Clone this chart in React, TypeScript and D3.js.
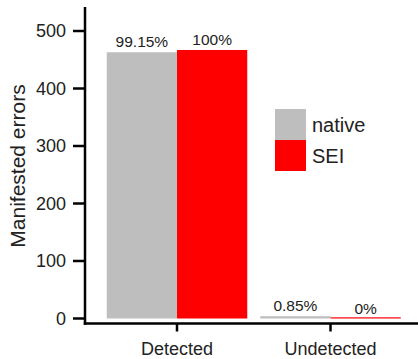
import React from "react";
import * as d3 from "d3";

const categories = ["Detected", "Undetected"];
const seriesNames = ["native", "SEI"];
const nativeValues = [463, 4];
const seiValues = [467, 0];
const nativeLabels = ["99.15%", "0.85%"];
const seiLabels = ["100%", "0%"];
const yTicks = [0, 100, 200, 300, 400, 500];
const colors = ["#bebebe", "#ff0000"];

const W = 418;
const H = 359;

const App = () => {
  const y = d3.scaleLinear().domain([0, 500]).range([318.5, 31]);
  const x0 = d3.scaleBand().domain(categories).range([100.25, 407.25]).padding(0);
  const x1 = d3
    .scaleBand()
    .domain(seriesNames)
    .range([6.5, x0.bandwidth() - 6.5])
    .padding(0);
  const color = d3.scaleOrdinal<string, string>().domain(seriesNames).range(colors);

  const rows = categories.map((c, i) => ({
    cat: c,
    vals: [
      { key: "native", v: nativeValues[i], label: nativeLabels[i] },
      { key: "SEI", v: seiValues[i], label: seiLabels[i] },
    ],
  }));

  const font = "Liberation Sans, Arial, sans-serif";
  const axisX = 85;
  const axisY = 323.5;

  return (
    <svg
      width={W}
      height={H}
      style={{ position: "absolute", left: 0, top: 0, background: "#fff" }}
      fontFamily={font}
    >
      {rows.map((r) => (
        <g key={r.cat} transform={`translate(${x0(r.cat)},0)`}>
          {r.vals.map((d) => {
            const bx = x1(d.key)!;
            const top = y(d.v);
            const h = Math.max(y(0) - top, 1.2);
            return (
              <g key={d.key}>
                <rect x={bx} y={y(0) - h} width={x1.bandwidth()} height={h} fill={color(d.key)} />
                <text
                  x={bx + x1.bandwidth() / 2}
                  y={top - 5}
                  textAnchor="middle"
                  fontSize={15.5}
                  fill="#222"
                >
                  {d.label}
                </text>
              </g>
            );
          })}
        </g>
      ))}

      {/* axes */}
      <line x1={axisX} x2={axisX} y1={7} y2={axisY + 1.25} stroke="#000" strokeWidth={2.5} />
      <line x1={axisX - 1.25} x2={W} y1={axisY} y2={axisY} stroke="#000" strokeWidth={2.5} />
      {yTicks.map((t) => (
        <g key={t}>
          <line x1={axisX - 12} x2={axisX} y1={y(t)} y2={y(t)} stroke="#000" strokeWidth={2.5} />
          <text x={axisX - 19} y={y(t)} dy="0.35em" textAnchor="end" fontSize={18} fill="#222">
            {t}
          </text>
        </g>
      ))}
      {categories.map((c) => {
        const cx = x0(c)! + x0.bandwidth() / 2;
        return (
          <g key={c}>
            <line x1={cx} x2={cx} y1={axisY} y2={axisY + 8} stroke="#000" strokeWidth={2.5} />
            <text x={cx} y={355} textAnchor="middle" fontSize={18} fill="#222">
              {c}
            </text>
          </g>
        );
      })}
      <text
        transform={`translate(25,166) rotate(-90)`}
        textAnchor="middle"
        fontSize={21}
        fill="#222"
      >
        Manifested errors
      </text>

      {/* legend */}
      {seriesNames.map((s, i) => (
        <g key={s} transform={`translate(275,${109 + i * 31})`}>
          <rect width={31} height={31} fill={color(s)} />
          <text x={37} y={15.5} dy="0.35em" fontSize={20} fill="#222">
            {s}
          </text>
        </g>
      ))}
    </svg>
  );
};

export default App;
